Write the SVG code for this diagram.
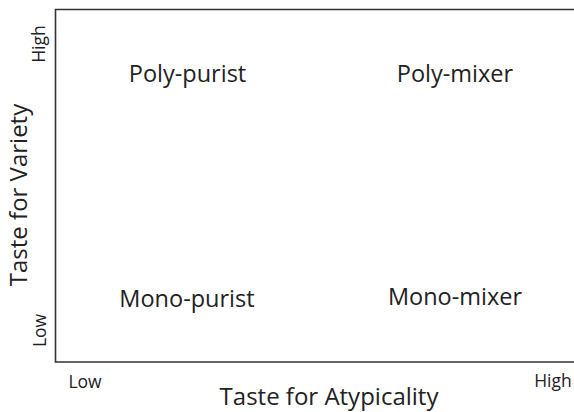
<svg xmlns="http://www.w3.org/2000/svg" width="574" height="412" viewBox="0 0 574 412">
  <style>
    text { font-family: "Open Sans", "Noto Sans", "Liberation Sans", sans-serif; fill: #222; }
    .node { font-size: 23.5px; text-anchor: middle; }
    .axis { font-size: 24px; text-anchor: middle; }
    .tick { font-size: 17.5px; text-anchor: middle; }
    .frame { fill: none; stroke: #333; stroke-width: 1.6; }
  </style>
  <rect width="574" height="412" fill="#fff"/>
  <g id="connectors">
    <path class="frame" d="M576 9.5 H55.5 V362 H576"/>
  </g>
  <g id="axis-y">
    <text class="axis" transform="translate(27,195) rotate(-90)">Taste for Variety</text>
    <text class="tick" transform="translate(45,44) rotate(-90)">High</text>
    <text class="tick" transform="translate(45.5,330.5) rotate(-90)">Low</text>
  </g>
  <g id="axis-x">
    <text class="axis" x="329" y="405">Taste for Atypicality</text>
    <text class="tick" x="85" y="388">Low</text>
    <text class="tick" x="553" y="387">High</text>
  </g>
  <g id="poly-purist"><text class="node" x="187.5" y="81.7">Poly-purist</text></g>
  <g id="poly-mixer"><text class="node" x="455" y="81.7">Poly-mixer</text></g>
  <g id="mono-purist"><text class="node" x="187" y="306.7">Mono-purist</text></g>
  <g id="mono-mixer"><text class="node" x="455" y="304.8">Mono-mixer</text></g>
</svg>
